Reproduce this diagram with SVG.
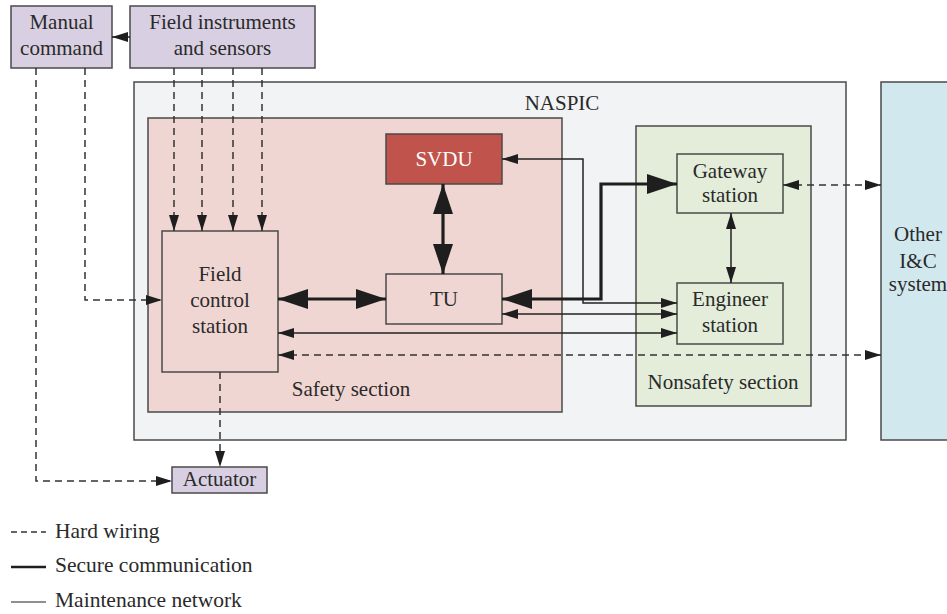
<svg xmlns="http://www.w3.org/2000/svg" width="947" height="614" viewBox="0 0 947 614">
  <style>
    text { font-family: "Liberation Serif", "Times New Roman", serif; font-size: 21px; fill: #2a2a2a; text-anchor: middle; }
    .legend { font-size: 21.5px; text-anchor: start; }
    .box { stroke: #4a4a4a; stroke-width: 1.5; }
    .ext { fill: #d8d0e2; }
    .naspic { fill: #f2f3f5; }
    .safety { fill: #f0d6d3; }
    .nonsafety { fill: #e3edd9; }
    .other { fill: #d2e8ef; }
    .svdu { fill: #c0534b; }
    .light { fill: none; }
    .thin { fill: none; stroke: #222; stroke-width: 1.5; }
    .thick { fill: none; stroke: #1e1e1e; stroke-width: 3.2; }
    .dash { fill: none; stroke: #333; stroke-width: 1.5; stroke-dasharray: 7 5; }
  </style>
  <defs>
    <marker id="ah" markerUnits="userSpaceOnUse" markerWidth="16" markerHeight="10" refX="16" refY="5" orient="auto-start-reverse">
      <path d="M0,0 L16,5 L0,10 z" fill="#1e1e1e"/>
    </marker>
    <marker id="ahBig" markerUnits="userSpaceOnUse" markerWidth="30" markerHeight="20" refX="30" refY="10" orient="auto-start-reverse">
      <path d="M0,0 L30,10 L0,20 z" fill="#1e1e1e"/>
    </marker>
  </defs>

  <!-- containers -->
  <g id="naspic">
    <rect class="box naspic" x="134" y="82" width="712" height="358"/>
    <text x="562" y="110">NASPIC</text>
  </g>
  <g id="other-ic">
    <rect class="box other" x="881" y="82" width="80" height="358"/>
    <text x="918" y="241">Other</text>
    <text x="918" y="268">I&amp;C</text>
    <text x="918" y="291">system</text>
  </g>
  <g id="safety-section">
    <rect class="box safety" x="148" y="118" width="414" height="294"/>
    <text x="351" y="396">Safety section</text>
  </g>
  <g id="nonsafety-section">
    <rect class="box nonsafety" x="636" y="126" width="175" height="280"/>
    <text x="723" y="389">Nonsafety section</text>
  </g>

  <!-- external nodes -->
  <g id="manual-command">
    <rect class="box ext" x="11" y="6" width="101" height="62"/>
    <text x="61.5" y="29">Manual</text>
    <text x="61.5" y="55">command</text>
  </g>
  <g id="field-instruments">
    <rect class="box ext" x="130" y="6" width="185" height="62"/>
    <text x="222.5" y="29">Field instruments</text>
    <text x="222.5" y="55">and sensors</text>
  </g>
  <g id="actuator">
    <rect class="box ext" x="172" y="467" width="95" height="26"/>
    <text x="219.5" y="486">Actuator</text>
  </g>

  <!-- safety nodes -->
  <g id="svdu">
    <rect class="box svdu" x="386" y="134" width="116" height="50"/>
    <text x="444" y="166" style="fill:#ffffff">SVDU</text>
  </g>
  <g id="tu">
    <rect class="box light" x="386" y="274" width="116" height="50"/>
    <text x="444" y="306">TU</text>
  </g>
  <g id="field-control-station">
    <rect class="box light" x="162" y="231" width="116" height="141"/>
    <text x="220" y="281">Field</text>
    <text x="220" y="307">control</text>
    <text x="220" y="333">station</text>
  </g>

  <!-- nonsafety nodes -->
  <g id="gateway-station">
    <rect class="box light" x="677" y="154" width="106" height="59"/>
    <text x="730" y="178">Gateway</text>
    <text x="730" y="202">station</text>
  </g>
  <g id="engineer-station">
    <rect class="box light" x="677" y="283" width="106" height="61"/>
    <text x="730" y="306">Engineer</text>
    <text x="730" y="332">station</text>
  </g>

  <!-- connectors -->
  <g id="connectors">
    <line class="thin" x1="130" y1="37" x2="112" y2="37" marker-end="url(#ah)"/>

    <line class="dash" x1="174" y1="68" x2="174" y2="231" marker-end="url(#ah)"/>
    <line class="dash" x1="202" y1="68" x2="202" y2="231" marker-end="url(#ah)"/>
    <line class="dash" x1="233" y1="68" x2="233" y2="231" marker-end="url(#ah)"/>
    <line class="dash" x1="262" y1="68" x2="262" y2="231" marker-end="url(#ah)"/>

    <polyline class="dash" points="85,68 85,300 162,300" marker-end="url(#ah)"/>
    <polyline class="dash" points="36,68 36,481 172,481" marker-end="url(#ah)"/>
    <line class="dash" x1="220" y1="372" x2="220" y2="467" marker-end="url(#ah)"/>

    <line class="thick" x1="278" y1="299" x2="386" y2="299" marker-start="url(#ahBig)" marker-end="url(#ahBig)"/>
    <line class="thick" x1="443" y1="184" x2="443" y2="274" marker-start="url(#ahBig)" marker-end="url(#ahBig)"/>
    <polyline class="thick" points="502,299 601,299 601,184 677,184" marker-start="url(#ahBig)" marker-end="url(#ahBig)"/>

    <polyline class="thin" points="502,159 583,159 583,303 677,303" marker-start="url(#ah)" marker-end="url(#ah)"/>
    <line class="thin" x1="502" y1="314" x2="677" y2="314" marker-start="url(#ah)" marker-end="url(#ah)"/>
    <line class="thin" x1="278" y1="333" x2="677" y2="333" marker-start="url(#ah)" marker-end="url(#ah)"/>
    <line class="thin" x1="731" y1="213" x2="731" y2="283" marker-start="url(#ah)" marker-end="url(#ah)"/>

    <line class="dash" x1="278" y1="355" x2="881" y2="355" marker-start="url(#ah)" marker-end="url(#ah)"/>
    <line class="dash" x1="783" y1="185" x2="881" y2="185" marker-start="url(#ah)" marker-end="url(#ah)"/>
  </g>

  <!-- legend -->
  <g id="legend">
    <line class="dash" x1="11" y1="532" x2="46" y2="532" style="stroke-dasharray:6 4"/>
    <text class="legend" x="55" y="538">Hard wiring</text>
    <line class="thick" x1="11" y1="567" x2="46" y2="567" style="stroke-width:2.6"/>
    <text class="legend" x="55" y="572">Secure communication</text>
    <line class="thin" x1="11" y1="602" x2="46" y2="602" style="stroke-width:1.2"/>
    <text class="legend" x="55" y="607">Maintenance network</text>
  </g>
</svg>
